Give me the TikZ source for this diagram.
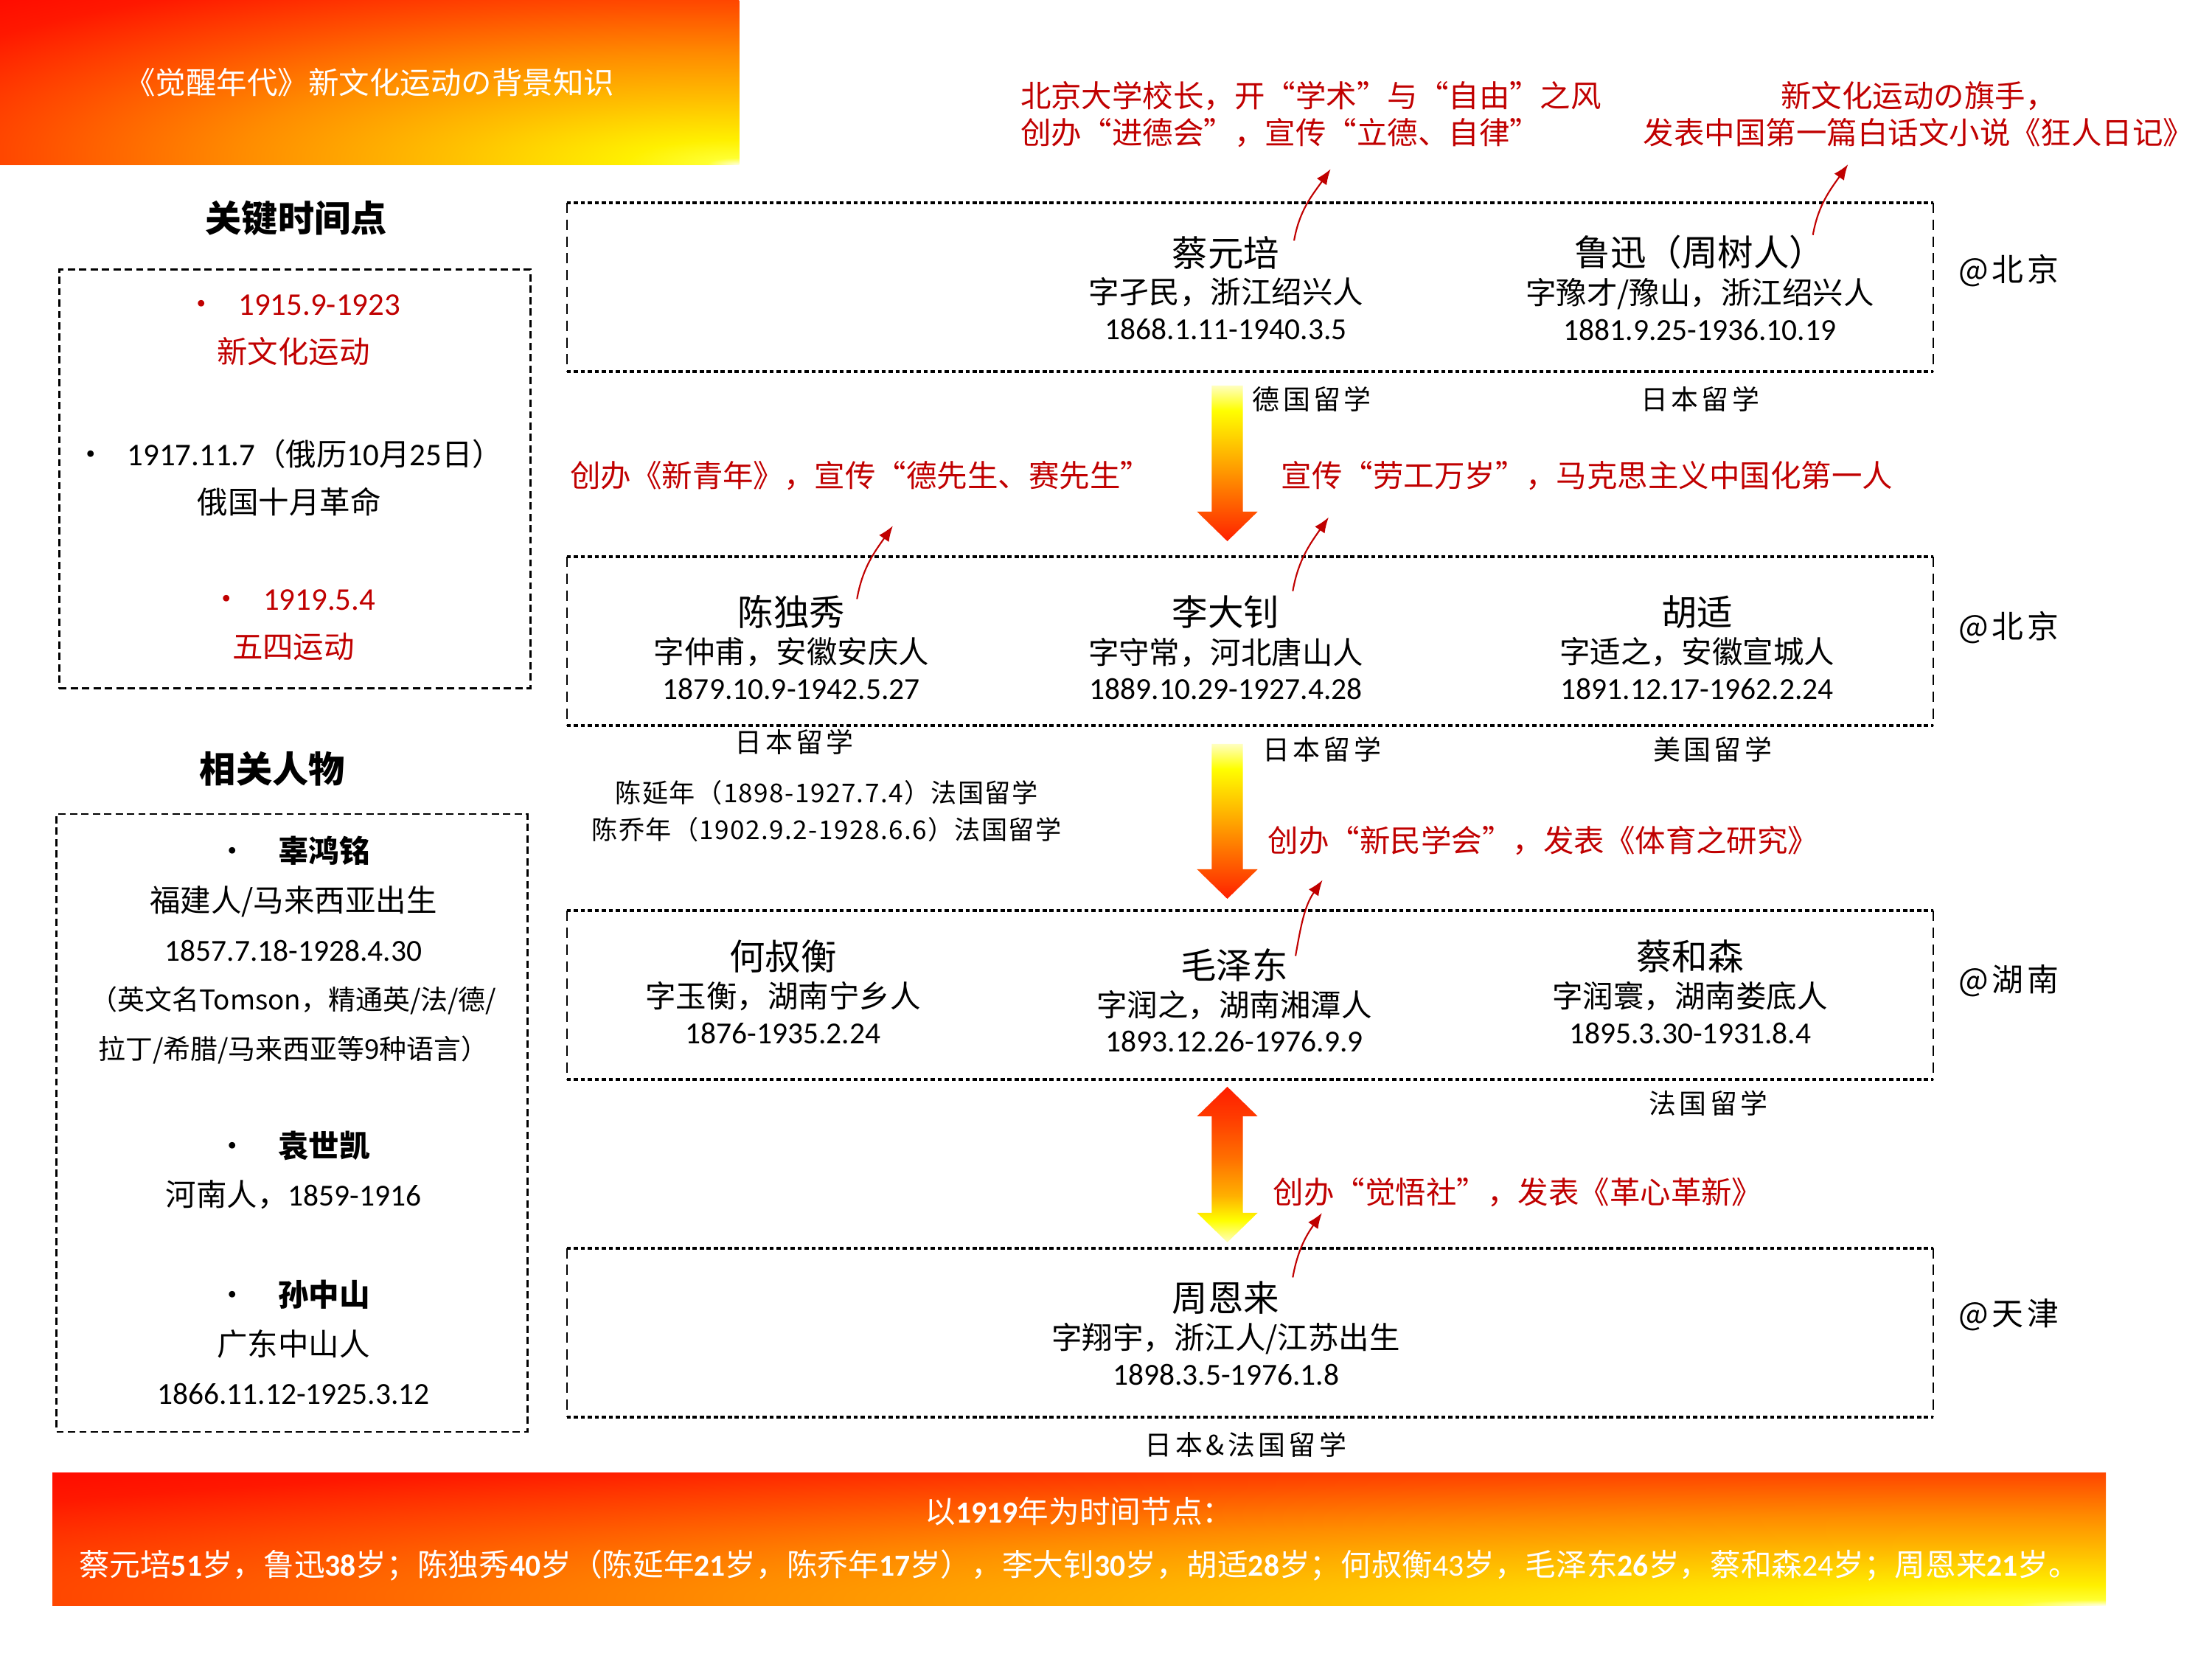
\documentclass[tikz,border=0pt]{standalone}
\usepackage{fontspec}
\setmainfont{Noto Sans CJK SC}
\newfontfamily\calibri{Carlito}
\usepackage{xcolor}
\usepackage{tikz}
\usetikzlibrary{positioning,calc,arrows.meta}
\definecolor{NoteRed}{HTML}{C00000}
\definecolor{GlowPale}{HTML}{FFFFE6}
\definecolor{GlowYellow}{HTML}{FFFF30}
\definecolor{GlowLemon}{HTML}{FFF000}
\definecolor{GlowAmber}{HTML}{FFC000}
\definecolor{GlowOrange}{HTML}{FF8C00}
\definecolor{GlowFlame}{HTML}{FF5000}
\definecolor{GlowScarlet}{HTML}{FF1800}
\definecolor{GlowRed}{HTML}{FF0000}
\definecolor{ArrowPale}{HTML}{FFFFC0}
\definecolor{ArrowYellow}{HTML}{FFFF00}
\definecolor{ArrowAmber}{HTML}{FFB000}
\definecolor{ArrowOrange}{HTML}{FF7000}
\definecolor{ArrowFlame}{HTML}{FF3C00}
\definecolor{ArrowRed}{HTML}{FF1E00}
\pgfdeclareradialshading{bannerglow}{\pgfpoint{25bp}{-25bp}}{%
  color(0bp)=(GlowPale); color(2bp)=(GlowYellow); color(7bp)=(GlowLemon);
  color(18bp)=(GlowAmber); color(31bp)=(GlowOrange); color(44bp)=(GlowFlame);
  color(57bp)=(GlowScarlet); color(70bp)=(GlowRed); color(300bp)=(GlowRed)}
\pgfdeclareverticalshading{fallfade}{100bp}{%
  color(0bp)=(ArrowRed); color(25bp)=(ArrowRed); color(30bp)=(ArrowFlame);
  color(40bp)=(ArrowOrange); color(52bp)=(ArrowAmber); color(67bp)=(ArrowYellow);
  color(75bp)=(ArrowPale); color(100bp)=(ArrowPale)}
\pgfdeclareverticalshading{risefade}{100bp}{%
  color(0bp)=(ArrowPale); color(25bp)=(ArrowPale); color(32bp)=(ArrowYellow);
  color(40bp)=(ArrowAmber); color(52bp)=(ArrowOrange); color(65bp)=(ArrowFlame);
  color(75bp)=(ArrowRed); color(100bp)=(ArrowRed)}
\newcommand{\fsz}[2]{\fontsize{#1}{#2}\selectfont}
\newcommand{\num}[1]{{\calibri #1}}
\newcommand{\bnum}[1]{{\calibri\bfseries #1}}
\newcommand{\fallarrow}[2]{%
  \shade[shading=fallfade] let \p1=#1, \p2=#2 in
    (\x1-6pt,\y1) -- (\x1+6pt,\y1) -- (\x1+6pt,\y2+11.4pt) -- (\x1+11.7pt,\y2+11.4pt)
    -- (\x1,\y2) -- (\x1-11.7pt,\y2+11.4pt) -- (\x1-6pt,\y2+11.4pt) -- cycle;}
\newcommand{\twinarrow}[2]{%
  \shade[shading=risefade] let \p1=#1, \p2=#2 in
    (\x1,\y1) -- (\x1+11.7pt,\y1-11.4pt) -- (\x1+6pt,\y1-11.4pt) -- (\x1+6pt,\y2+11.4pt)
    -- (\x1+11.7pt,\y2+11.4pt) -- (\x1,\y2) -- (\x1-11.7pt,\y2+11.4pt) -- (\x1-6pt,\y2+11.4pt)
    -- (\x1-6pt,\y1-11.4pt) -- (\x1-11.7pt,\y1-11.4pt) -- cycle;}

\begin{document}
\begin{tikzpicture}[x=0.019133cm, y=-0.019133cm,
    banner/.style={shading=bannerglow, inner sep=0pt, text=white, font=\fsz{11.8}{20.7}, align=center},
    heading/.style={font=\fsz{14}{16}\bfseries, inner sep=0pt},
    sidebox/.style={draw, dash pattern=on 2.8pt off 1.6pt, line width=0.7pt, inner sep=0pt},
    rowbox/.style={inner sep=0pt, minimum width=968*0.5443pt, minimum height=119*0.5443pt},
    topdots/.style={line width=1.1pt, dash pattern=on 1.6pt off 1.1pt},
    sidedash/.style={line width=0.6pt, dash pattern=on 4pt off 2.5pt},
    eventitem/.style={font=\fsz{11.8}{18.5}, align=center, inner sep=0pt},
    figitem/.style={font=\fsz{11.8}{19}, align=center, inner sep=0pt},
    pname/.style={font=\fsz{13.8}{16}, inner sep=0pt},
    pinfo/.style={font=\fsz{11.8}{13.8}, align=center, inner sep=0pt},
    study/.style={font=\fsz{10.5}{14.2}\addfontfeatures{LetterSpace=12}, inner sep=0pt},
    place/.style={font=\fsz{12.2}{14}\addfontfeatures{LetterSpace=12}, inner sep=0pt},
    note/.style={text=NoteRed, font=\fsz{11.8}{14.2}, inner sep=0pt},
    noteline/.style={NoteRed, line width=0.6pt, -{Latex[length=6pt,width=4.6pt]}}]
  \useasboundingbox (0,0) rectangle (1568,1176);

  \node[banner, minimum width=524*0.5443pt, minimum height=117*0.5443pt] (titlebar) at (262,58.5) {《觉醒年代》新文化运动の背景知识};

  \node[heading] (keyhead) at (210,155) {关键时间点};
  \node[sidebox, minimum width=334*0.5443pt, minimum height=297*0.5443pt] (eventbox) at (209,339.5) {};
  \node[eventitem, text=NoteRed] (ev1) at (208,234) {•\hspace{0.7em}{\fsz{12.2}{18.5}\num{1915.9-1923}}\\新文化运动};
  \node[eventitem] (ev2) at (205,338.5) {•\hspace{0.7em}{\fsz{12.2}{18.5}\num{1917.11.7}}（俄历{\fsz{12.2}{18.5}\num{10}}月{\fsz{12.2}{18.5}\num{25}}日）\\俄国十月革命};
  \node[eventitem, text=NoteRed] (ev3) at (208,443) {•\hspace{0.7em}{\fsz{12.2}{18.5}\num{1919.5.4}}\\五四运动};

  \node[heading] (fighead) at (193,545) {相关人物};
  \node[sidebox, minimum width=334*0.5443pt, minimum height=438*0.5443pt] (figbox) at (207,796) {};
  \node[figitem] (gu) at (208,673.5) {•\hspace{1em}\textbf{辜鸿铭}\\福建人/马来西亚出生\\\num{1857.7.18-1928.4.30}\\{\fsz{10.5}{19}（英文名Tomson，精通英/法/德/}\\{\fsz{10.5}{19}拉丁/希腊/马来西亚等9种语言）}};
  \node[figitem] (yuan) at (208,829.5) {•\hspace{1em}\textbf{袁世凯}\\河南人，\num{1859-1916}};
  \node[figitem] (sun) at (208,951.5) {•\hspace{1em}\textbf{孙中山}\\广东中山人\\\num{1866.11.12-1925.3.12}};

  \node[rowbox] (rowA) at (886,203.5) {};
  \node[rowbox] (rowB) at (886,454.5) {};
  \node[rowbox] (rowC) at (886,705.5) {};
  \node[rowbox] (rowD) at (886,944.5) {};
  \foreach \r in {rowA,rowB,rowC,rowD} {
    \draw[topdots] (\r.north west) -- (\r.north east) (\r.south west) -- (\r.south east);
    \draw[sidedash] (\r.north west) -- (\r.south west) (\r.north east) -- (\r.south east);
  }

  \node[pname] (cai) at (869,179) {蔡元培};
  \node[pinfo, below=3pt of cai] (caiinfo) {字孑民，浙江绍兴人\\\num{1868.1.11-1940.3.5}};
  \node[pname] (lu) at (1205,179) {鲁迅（周树人）};
  \node[pinfo, below=3pt of lu] (luinfo) {字豫才/豫山，浙江绍兴人\\\num{1881.9.25-1936.10.19}};
  \node[pname] (chen) at (561,434) {陈独秀};
  \node[pinfo, below=3pt of chen] (cheninfo) {字仲甫，安徽安庆人\\\num{1879.10.9-1942.5.27}};
  \node[pname] (li) at (869,434) {李大钊};
  \node[pinfo, below=3pt of li] (liinfo) {字守常，河北唐山人\\\num{1889.10.29-1927.4.28}};
  \node[pname] (hu) at (1203,434) {胡适};
  \node[pinfo, below=3pt of hu] (huinfo) {字适之，安徽宣城人\\\num{1891.12.17-1962.2.24}};
  \node[pname] (he) at (555,678) {何叔衡};
  \node[pinfo, below=3pt of he] (heinfo) {字玉衡，湖南宁乡人\\\num{1876-1935.2.24}};
  \node[pname] (mao) at (875,684) {毛泽东};
  \node[pinfo, below=3pt of mao] (maoinfo) {字润之，湖南湘潭人\\\num{1893.12.26-1976.9.9}};
  \node[pname] (caihe) at (1198,678) {蔡和森};
  \node[pinfo, below=3pt of caihe] (caiheinfo) {字润寰，湖南娄底人\\\num{1895.3.30-1931.8.4}};
  \node[pname] (zhou) at (869,920) {周恩来};
  \node[pinfo, below=3pt of zhou] (zhouinfo) {字翔宇，浙江人/江苏出生\\\num{1898.3.5-1976.1.8}};

  \node[place] (locA) at (1424,192) {@北京};
  \node[place] (locB) at (1424,445) {@北京};
  \node[place] (locC) at (1424,695) {@湖南};
  \node[place] (locD) at (1424,932) {@天津};

  \node[study] (caistudy) at (930,283) {德国留学};
  \node[study] (lustudy) at (1205,283) {日本留学};
  \node[study] (chenstudy) at (563,526) {日本留学};
  \node[study, font=\fsz{10}{14.2}\addfontfeatures{LetterSpace=4}, align=center] (sons) at (586,575) {陈延年（1898-1927.7.4）法国留学\\陈乔年（1902.9.2-1928.6.6）法国留学};
  \node[study] (listudy) at (937,531) {日本留学};
  \node[study] (hustudy) at (1214,531) {美国留学};
  \node[study] (caihestudy) at (1211,782) {法国留学};
  \node[study] (zhoustudy) at (883,1024) {日本\&法国留学};

  \node[note, anchor=west, align=left] (caiNote) at (723,81) {北京大学校长，开“学术”与“自由”之风\\创办“进德会”，宣传“立德、自律”};
  \node[note, align=center] (luNote) at (1360,81) {新文化运动の旗手，\\发表中国第一篇白话文小说《狂人日记》};
  \node[note] (chenNote) at (610,337) {创办《新青年》，宣传“德先生、赛先生”};
  \node[note] (liNote) at (1125,337) {宣传“劳工万岁”，马克思主义中国化第一人};
  \node[note] (maoNote) at (1094,596) {创办“新民学会”，发表《体育之研究》};
  \node[note] (zhouNote) at (1076,845) {创办“觉悟社”，发表《革心革新》};

  \draw[noteline] ([xshift=5.4pt,yshift=-2pt]cai.north east) to[out=80,in=235] ([xshift=7.6pt,yshift=-8.2pt]caiNote.south);
  \draw[noteline] ([xshift=-4.9pt]lu.north east) to[out=80,in=235] ([xshift=-27.2pt,yshift=-6.5pt]luNote.south);
  \draw[noteline] ([xshift=4.4pt,yshift=-1.5pt]chen.north east) to[out=80,in=235] ([xshift=12.5pt,yshift=-13.6pt]chenNote.south);
  \draw[noteline] ([xshift=4.9pt,yshift=1.6pt]li.north east) to[out=80,in=235] ([xshift=18.5pt,yshift=-10.3pt]liNote.south west);
  \draw[noteline] ([xshift=2.7pt,yshift=-3.1pt]mao.north east) to[out=80,in=235] ([xshift=21.2pt,yshift=-9.3pt]maoNote.south west);
  \draw[noteline] ([xshift=4.9pt,yshift=1.3pt]zhou.north east) to[out=80,in=235] ([xshift=19pt,yshift=-2.2pt]zhouNote.south west);

  \coordinate (fallAtop) at ($(rowA.south -| cai)+(1,10)$);
  \coordinate (fallAtip) at ($(rowB.north -| cai)+(1,-11)$);
  \fallarrow{(fallAtop)}{(fallAtip)}
  \coordinate (fallBtop) at ($(rowB.south -| li)+(1,13)$);
  \coordinate (fallBtip) at ($(rowC.north -| li)+(1,-8.5)$);
  \fallarrow{(fallBtop)}{(fallBtip)}
  \coordinate (twinTop) at ($(rowC.south -| zhou)+(1,5)$);
  \coordinate (twinTip) at ($(rowD.north -| zhou)+(1,-4)$);
  \twinarrow{(twinTop)}{(twinTip)}

  \node[banner, font=\fsz{11.85}{20.7}, minimum width=1456*0.5443pt, minimum height=94*0.5443pt] (agebar) at (765,1091) {以\bnum{1919}年为时间节点：\\蔡元培\bnum{51}岁，鲁迅\bnum{38}岁；陈独秀\bnum{40}岁（陈延年\bnum{21}岁，陈乔年\bnum{17}岁），李大钊\bnum{30}岁，胡适\bnum{28}岁；何叔衡\num{43}岁，毛泽东\bnum{26}岁，蔡和森\num{24}岁；周恩来\bnum{21}岁。};
\end{tikzpicture}
\end{document}
